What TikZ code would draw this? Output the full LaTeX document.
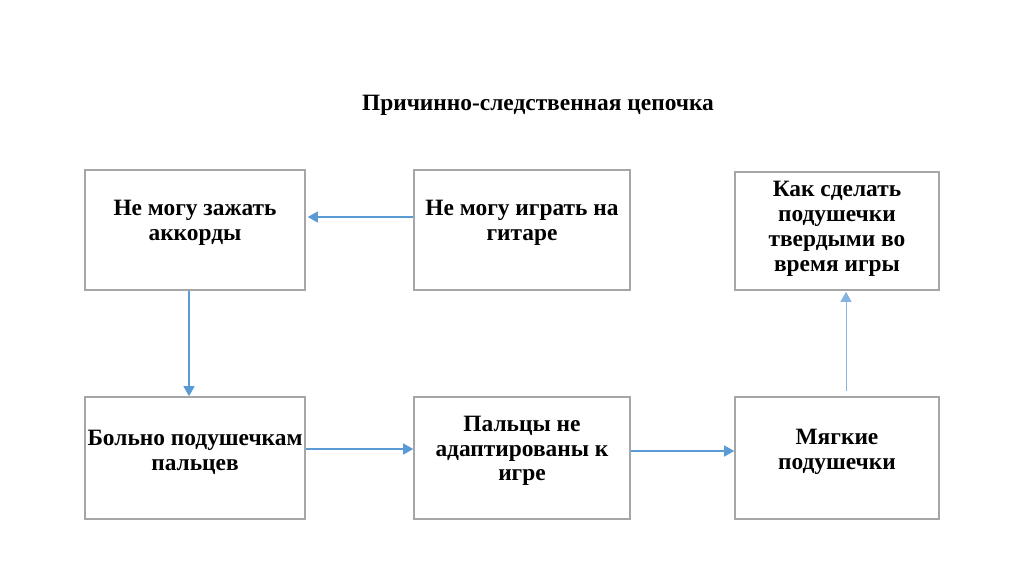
\documentclass[tikz,border=0pt]{standalone}
\usepackage{fontspec}
\setmainfont{Liberation Serif}
\usetikzlibrary{arrows.meta}
\definecolor{boxgray}{HTML}{A6A6A6}
\definecolor{arrowblue}{HTML}{5B9BD5}
\tikzset{
  box/.style={draw=boxgray, line width=1.6pt, fill=white, rectangle, inner sep=0pt},
  txt/.style={align=center, font=\fontsize{23.4}{24.8}\selectfont\bfseries, inner sep=0pt},
  conn/.style={draw=arrowblue, line width=1.2pt, -{Triangle[length=10pt,width=11pt]}}
}
\begin{document}
\begin{tikzpicture}[x=1pt,y=-1pt]
\useasboundingbox (0,0) rectangle (1024,574);
\fill[white] (0,0) rectangle (1024,574);
% title
\node[txt] (title) at (538,105) {Причинно-следственная цепочка};
% boxes
\node[box, minimum width=220pt, minimum height=120pt] (b1) at (195,230) {};
\node[box, minimum width=216pt, minimum height=120pt] (b2) at (522,230) {};
\node[box, minimum width=204pt, minimum height=118pt] (b3) at (837,231) {};
\node[box, minimum width=220pt, minimum height=122pt] (b4) at (195,458) {};
\node[box, minimum width=216pt, minimum height=122pt] (b5) at (522,458) {};
\node[box, minimum width=204pt, minimum height=122pt] (b6) at (837,458) {};
% texts
\node[txt] (t1) at (195,223) {Не могу зажать\\аккорды};
\node[txt] (t2) at (522,223) {Не могу играть на\\гитаре};
\node[txt] (t3) at (837,229) {Как сделать\\подушечки\\твердыми во\\время игры};
\node[txt] (t4) at (195,452) {Больно подушечкам\\пальцев};
\node[txt] (t5) at (522,451) {Пальцы не\\адаптированы к\\игре};
\node[txt] (t6) at (837,452) {Мягкие\\подушечки};
% connectors
\draw[conn] (b2.west |- 0,217) -- ([xshift=2pt]b1.east |- 0,217);
\draw[conn] (189,0 |- b1.south) -- (189,0 |- b4.north);
\draw[conn] (b4.east |- 0,449) -- (b5.west |- 0,449);
\draw[conn] (b5.east |- 0,451) -- (b6.west |- 0,451);
\draw[conn, draw=arrowblue!75, line width=1pt] ([yshift=5pt]b6.north -| 846,0) -- ([yshift=-1pt]b3.south -| 846,0);
\end{tikzpicture}
\end{document}
